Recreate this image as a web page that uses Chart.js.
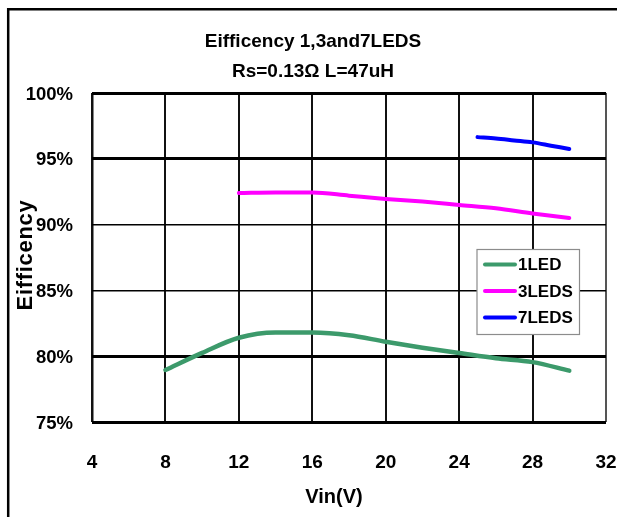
<!DOCTYPE html>
<html>
<head>
<meta charset="utf-8">
<title>Eifficency 1,3and7LEDS</title>
<script src="https://cdn.jsdelivr.net/npm/chart.js@4.4.1/dist/chart.umd.min.js"></script>
<style>
  html, body { margin: 0; padding: 0; background: #ffffff; }
  #wrap { width: 617px; height: 517px; }
</style>
</head>
<body>
<div id="wrap"><canvas id="chart" width="617" height="517"></canvas></div>
<script>
// Measured efficiency versus input voltage
const titleLines = ['Eifficency 1,3and7LEDS', 'Rs=0.13\u03A9 L=47uH'];
const xTitle = 'Vin(V)';
const yTitle = 'Eifficency';

const vin1LED = [8, 10, 12, 14, 16, 18, 20, 22, 24, 26, 28, 30];
const eff1LED = [78.95, 80.25, 81.4, 81.8, 81.8, 81.6, 81.1, 80.65, 80.25, 79.85, 79.55, 78.9];

const vin3LEDS = [12, 14, 16, 18, 20, 22, 24, 26, 28, 30];
const eff3LEDS = [92.4, 92.45, 92.45, 92.2, 91.95, 91.75, 91.5, 91.25, 90.85, 90.5];

const vin7LEDS = [25, 26, 27, 28, 29, 30];
const eff7LEDS = [96.65, 96.55, 96.4, 96.25, 96.0, 95.75];

const seriesNames = ['1LED', '3LEDS', '7LEDS'];

const xTicks = { min: 4, max: 32, step: 4 };
const yTicks = { min: 75, max: 100, step: 5 };

const FONT = "'Liberation Sans', Arial, sans-serif";

const pts = (xs, ys) => xs.map((x, i) => ({ x: x, y: ys[i] }));

// Outer frame lines (top and left edges of the figure)
const framePlugin = {
  id: 'frame',
  beforeDraw(chart) {
    const c = chart.ctx;
    c.save();
    c.fillStyle = '#ffffff';
    c.fillRect(0, 0, chart.width, chart.height);
    c.strokeStyle = '#000000';
    c.lineWidth = 2.5;
    c.beginPath();
    c.moveTo(8.2, chart.height);
    c.lineTo(8.2, 9.2);
    c.lineTo(chart.width, 9.2);
    c.stroke();
    c.restore();
  }
};

// Axis titles placed beside the plot area
const axisTitlePlugin = {
  id: 'axisTitles',
  afterDraw(chart) {
    const c = chart.ctx;
    c.save();
    c.fillStyle = '#000000';
    c.textAlign = 'center';
    c.textBaseline = 'middle';
    c.font = 'bold 20px ' + FONT;
    c.fillText(xTitle, 334, 497);
    c.translate(25.5, 255);
    c.rotate(-Math.PI / 2);
    c.font = 'bold 22px ' + FONT;
    if ('letterSpacing' in c) c.letterSpacing = '0.7px';
    c.fillText(yTitle, 0, 0);
    c.restore();
  }
};

// Boxed legend inside the plot area
const boxLegendPlugin = {
  id: 'boxLegend',
  afterDatasetsDraw(chart, args, opts) {
    const c = chart.ctx;
    c.save();
    c.fillStyle = '#ffffff';
    c.strokeStyle = '#8c8c8c';
    c.lineWidth = 1.2;
    c.fillRect(opts.x, opts.y, opts.w, opts.h);
    c.strokeRect(opts.x, opts.y, opts.w, opts.h);
    c.font = 'bold 17px ' + FONT;
    c.textAlign = 'left';
    c.textBaseline = 'middle';
    chart.data.datasets.forEach((ds, i) => {
      const y = opts.rowY[i];
      c.strokeStyle = ds.borderColor;
      c.lineWidth = 4;
      c.lineCap = 'round';
      c.beginPath();
      c.moveTo(opts.x + 8, y);
      c.lineTo(opts.x + 38, y);
      c.stroke();
      c.fillStyle = '#000000';
      c.fillText(ds.label, opts.x + 41, y + 1);
    });
    c.restore();
  }
};

const thickY = [75, 80, 95, 100];

new Chart(document.getElementById('chart'), {
  type: 'line',
  data: {
    datasets: [
      { label: seriesNames[0], data: pts(vin1LED, eff1LED), borderColor: '#3c9a6b', borderWidth: 4.5 },
      { label: seriesNames[1], data: pts(vin3LEDS, eff3LEDS), borderColor: '#ff00ff', borderWidth: 4 },
      { label: seriesNames[2], data: pts(vin7LEDS, eff7LEDS), borderColor: '#0000ff', borderWidth: 4 }
    ]
  },
  options: {
    responsive: false,
    animation: false,
    layout: { padding: { left: 20, right: 11, top: 0, bottom: 0 } },
    elements: {
      point: { radius: 0, hoverRadius: 0 },
      line: { tension: 0.4, cubicInterpolationMode: 'monotone', fill: false,
              borderCapStyle: 'round', borderJoinStyle: 'round' }
    },
    plugins: {
      legend: { display: false },
      tooltip: { enabled: false },
      title: {
        display: true,
        text: titleLines,
        color: '#000000',
        font: { family: FONT, size: 19, weight: 'bold', lineHeight: 1.58 },
        padding: { top: 27, bottom: 6 }
      },
      boxLegend: { x: 477, y: 249.5, w: 102.5, h: 85, rowY: [264.5, 291, 317.5] }
    },
    scales: {
      x: {
        type: 'linear',
        min: xTicks.min,
        max: xTicks.max,
        afterFit(scale) { scale.height = 95; },
        border: { display: false },
        grid: {
          drawTicks: true,
          tickLength: 29,
          tickColor: 'rgba(0,0,0,0)',
          color: (ctx) => (ctx.tick && ctx.tick.value === xTicks.max) ? '#555555' : '#111111',
          lineWidth: (ctx) => (ctx.tick && ctx.tick.value === xTicks.min) ? 2.5 : 2
        },
        ticks: {
          stepSize: xTicks.step,
          padding: 0,
          color: '#000000',
          font: { family: FONT, size: 19, weight: 'bold' }
        }
      },
      y: {
        min: yTicks.min,
        max: yTicks.max,
        afterFit(scale) { scale.width = 72; },
        border: { display: false },
        grid: {
          drawTicks: false,
          color: '#000000',
          lineWidth: (ctx) => (ctx.tick && thickY.includes(ctx.tick.value)) ? 3 : 1.5
        },
        ticks: {
          stepSize: yTicks.step,
          padding: 19,
          labelOffset: 1.5,
          color: '#000000',
          font: { family: FONT, size: 18.5, weight: 'bold' },
          callback: (v) => v + '%'
        }
      }
    }
  },
  plugins: [framePlugin, axisTitlePlugin, boxLegendPlugin]
});
</script>
</body>
</html>
